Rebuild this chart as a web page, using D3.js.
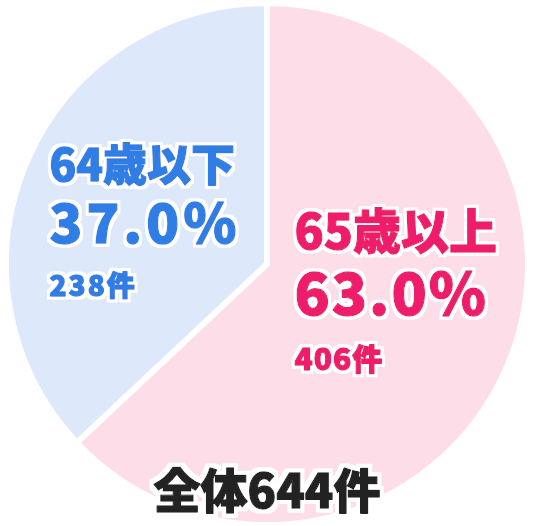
<!DOCTYPE html>
<html>
<head>
<meta charset="utf-8">
<script src="https://cdn.jsdelivr.net/npm/d3@7"></script>
<style>
  html, body { margin: 0; padding: 0; background: #fff; }
  svg text { font-family: "Noto Sans CJK JP", "Noto Sans", sans-serif; font-weight: 900;
             stroke-linejoin: round; }
</style>
</head>
<body>
<svg id="chart" width="536" height="526"></svg>
<script>
// age groups, share (%) and counts
var groups = ["65歳以上", "64歳以下"];
var shares = [63.0, 37.0];
var counts = [406, 238];
var total = 644;

var fills = ["#fcdde8", "#dde9fb"];
var inks = ["#ee1e6a", "#2f7ee5"];

var svg = d3.select("#chart");
var cx = 267, cy = 264, R = 261;

// white outline round the labels
var defs = svg.append("defs");
[["halo", 3.2], ["haloS", 2.6], ["haloL", 3.6]].forEach(function(h){
    var f = defs.append("filter").attr("id", h[0])
        .attr("x", "-10%").attr("y", "-30%").attr("width", "120%").attr("height", "160%");
    f.append("feMorphology").attr("in", "SourceAlpha").attr("operator", "dilate")
        .attr("radius", h[1]).attr("result", "grow");
    f.append("feFlood").attr("flood-color", "#fff");
    f.append("feComposite").attr("in2", "grow").attr("operator", "in").attr("result", "ring");
    var m = f.append("feMerge");
    m.append("feMergeNode").attr("in", "ring");
    m.append("feMergeNode").attr("in", "SourceGraphic");
});

var g = svg.append("g").attr("transform", "translate(" + cx + "," + cy + ")");

var pie = d3.pie().sort(null).value(function(d){ return d; });
var arcs = pie(shares);
var arc = d3.arc().innerRadius(0).outerRadius(R);

g.selectAll("path.slice")
    .data(arcs)
  .enter().append("path")
    .attr("class", "slice")
    .attr("d", arc)
    .attr("fill", function(d, i){ return fills[i]; })
    .attr("stroke", "#fff")
    .attr("stroke-width", 6)
    .attr("stroke-linejoin", "miter");

// heavy text: ink with a thin stroke of the same colour, white halo by filter
function heavy(sel, x, y, size, ls, ink, halo, str, anchor) {
    return sel.append("text")
        .attr("x", x).attr("y", y)
        .attr("text-anchor", anchor || "start")
        .attr("font-size", size + "px")
        .attr("letter-spacing", ls)
        .attr("fill", ink)
        .attr("stroke", ink)
        .attr("stroke-width", 1.3)
        .attr("filter", "url(#" + halo + ")")
        .text(str);
}

// labels sit around the centroid, left aligned
var labelArc = d3.arc().innerRadius(0).outerRadius(256);
// shift of each label block from its centroid
var shift = [[-90, -66], [-100, -32]];
var sizes = [[48, 58, 30], [44, 54, 28]];
var spacing = [[0, 2, 1], [0, 4, 2]];

arcs.forEach(function(a, i){
    var c = labelArc.centroid(a);
    var x = c[0] + shift[i][0], y = c[1] + shift[i][1];
    var y2 = y + sizes[i][1] + 8;
    var y3 = y2 + sizes[i][2] + 25;
    heavy(g, x, y, sizes[i][0], spacing[i][0], inks[i], "halo", groups[i]);
    heavy(g, x, y2, sizes[i][1], spacing[i][1], inks[i], "halo", d3.format(".1f")(shares[i]) + "%");
    heavy(g, x, y3, sizes[i][2], spacing[i][2], inks[i], "haloS", counts[i] + "件");
});

heavy(svg, cx, 508, 47, 0, "#222", "haloL", "全体" + total + "件", "middle");
</script>
</body>
</html>
